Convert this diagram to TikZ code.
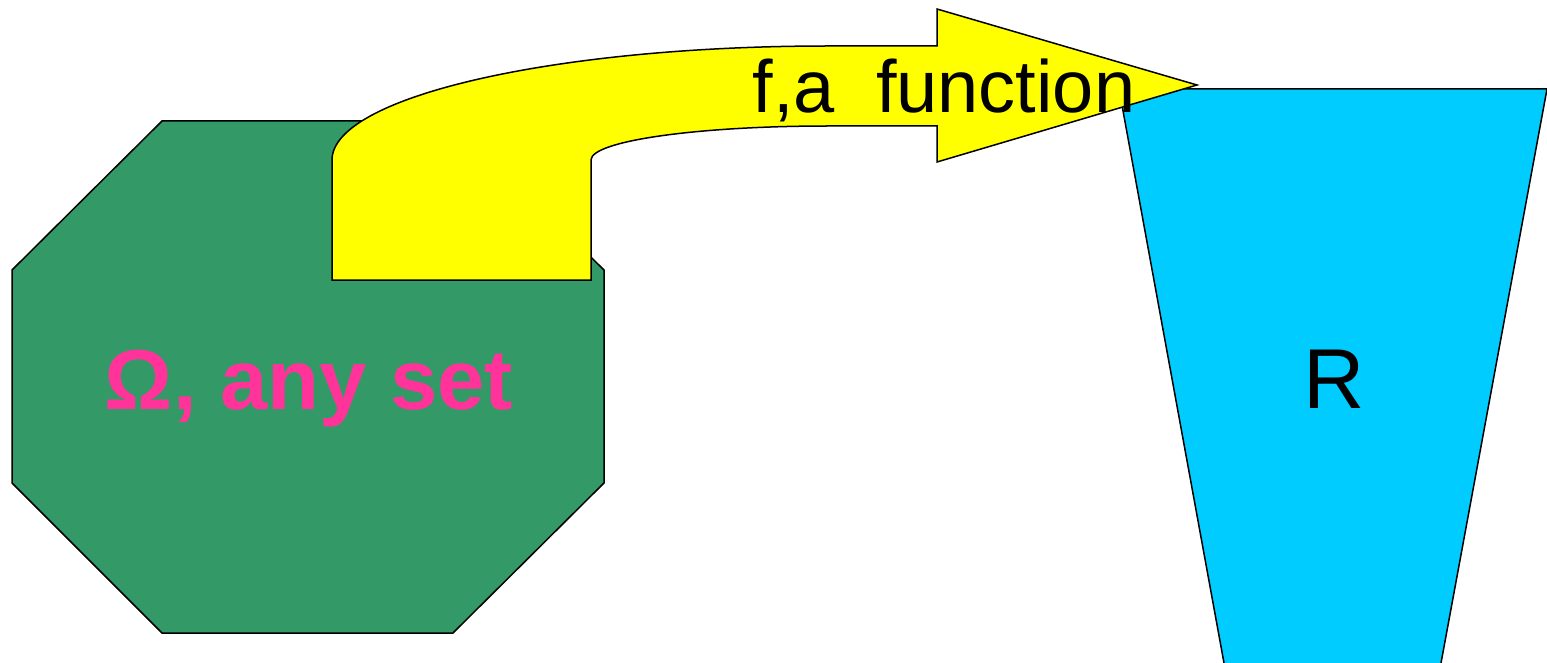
\documentclass[tikz,border=0pt]{standalone}
\usepackage{fontspec}
\setmainfont{Liberation Sans}
\definecolor{setgreen}{HTML}{339966}
\definecolor{arrowyellow}{HTML}{FFFF00}
\definecolor{realblue}{HTML}{00CCFF}
\definecolor{labelpink}{HTML}{FF3399}
\tikzset{
  shapeline/.style={draw=black, line width=1.5pt, line join=miter},
  lbl/.style={inner sep=0pt, anchor=base}
}
\begin{document}
\begin{tikzpicture}[x=1pt,y=-1pt]
\useasboundingbox (0,0) rectangle (1547,663);
\clip (0,0) rectangle (1547,663);
% octagon (Omega)
\draw[shapeline, fill=setgreen] (162,121) -- (453,121) -- (604,270) -- (604,483) -- (453,633) -- (162,633) -- (12,483) -- (12,270) -- cycle;
% trapezoid (R)
\fill[realblue] (1119,89) -- (1547,89) -- (1441,663) -- (1224,663) -- cycle;
\draw[shapeline] (1224,663) -- (1119,89) -- (1547,89) -- (1441,663);
% curved arrow (f)
\draw[shapeline, fill=arrowyellow] (332,280) -- (332,160)
  .. controls (332,97) and (554,46) .. (828,46)
  -- (937,46) -- (937,9) -- (1197,85) -- (937,162) -- (937,126) -- (828,126)
  .. controls (697,126) and (591,141) .. (591,160)
  -- (591,280) -- cycle;
% labels
\node[lbl, text=labelpink, font=\fontsize{85}{90}\selectfont\bfseries] (omega) at (309,409) {Ω, any set};
\node[lbl, font=\fontsize{74}{80}\selectfont] (f) at (944,113) {f,a\ \ function};
\node[lbl, font=\fontsize{85}{90}\selectfont] (R) at (1334,408) {R};
\end{tikzpicture}
\end{document}
